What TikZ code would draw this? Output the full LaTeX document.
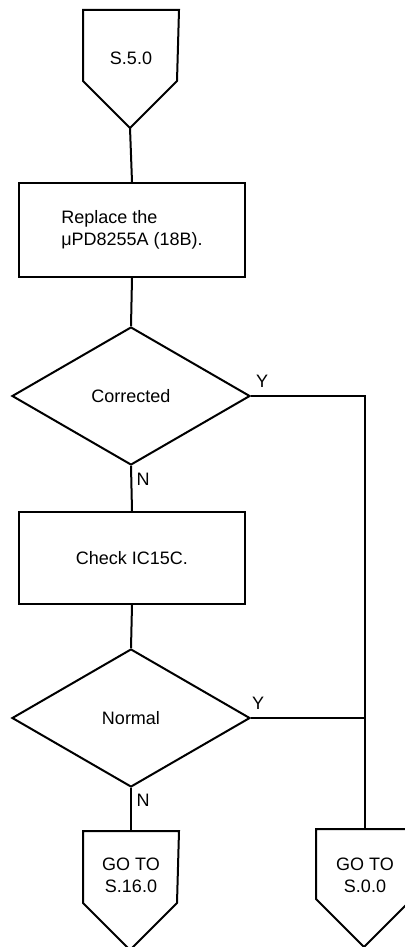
\documentclass[tikz,border=0pt]{standalone}
\usepackage{fontspec}
\setmainfont{Liberation Sans}
\usepackage{tikz}
\usetikzlibrary{positioning, shapes.geometric}

\begin{document}
\begin{tikzpicture}[
    x=1pt, y=-1pt,
    line width=2pt,
    font=\fontsize{18}{22}\selectfont,
    offPage/.style={rectangle, anchor=north, align=center, inner sep=0pt, minimum width=94pt},
    stepBox/.style={rectangle, draw, align=left, minimum width=226pt},
    decBox/.style={diamond, draw, inner sep=0pt, minimum width=238pt, minimum height=138pt},
    branchLbl/.style={inner sep=0pt}
]
    \useasboundingbox (0,0) rectangle (404,947);

    % Entry point (pentagon drawn round the text node)
    \node[offPage, minimum height=94pt] (s50) at (131,10) {S.5.0};
    \draw (s50.north west) -- ++(0,71) -- ++(47,47) coordinate (s50tip) -- ++(47,-47) -- (s50.north east) -- cycle;

    % Steps and decisions
    \node[stepBox, minimum height=94pt] (repl) at (132,230) {Replace the\\μPD8255A (18B).};
    \node[decBox] (corr) at (131,396) {Corrected};
    \node[stepBox, minimum height=92pt] (chk) at (132,558) {Check IC15C.};
    \node[decBox] (norm) at (131,718) {Normal};

    % Exits
    \node[offPage, minimum height=86pt] (go16) at (131,831) {GO TO\\S.16.0};
    \draw (go16.north west) -- ++(0,72) -- ++(47,47) -- ++(47,-47) -- (go16.north east) -- cycle;
    \node[offPage, minimum width=96pt, minimum height=90pt] (go00) at (365,829) {GO TO\\S.0.0};
    \draw (go00.north west) -- ++(0,70) -- ++(48,48) -- ++(48,-48) -- (go00.north east) -- cycle;

    % Branch labels
    \node[branchLbl] (ycorr) at (262,381) {Y};
    \node[branchLbl] (ncorr) at (143,479) {N};
    \node[branchLbl] (ynorm) at (258,703) {Y};
    \node[branchLbl] (nnorm) at (143,800) {N};

    % Flow lines
    \draw (s50tip) -- (repl.north);
    \draw (repl.south) -- (corr.north);
    \draw (corr.south) -- (chk.north);
    \draw (chk.south) -- (norm.north);
    \draw (norm.south) -- (go16.north);
    \draw (corr.east) -| (go00.north);
    \draw (norm.east) -- (norm.east -| go00.north);
\end{tikzpicture}
\end{document}
